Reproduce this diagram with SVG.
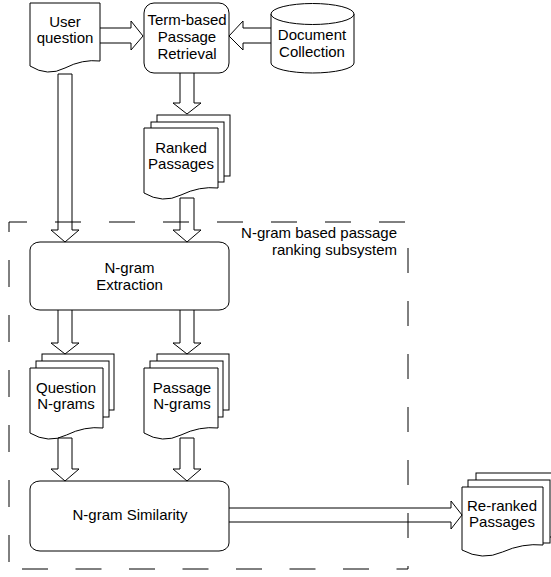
<svg xmlns="http://www.w3.org/2000/svg" width="551" height="577" viewBox="0 0 551 577">
<style>
.s{fill:#fff;stroke:#000;stroke-width:1}
.a{fill:none;stroke:#000;stroke-width:1}
.d{fill:none;stroke:#000;stroke-width:1}
text{font-family:"Liberation Sans",Arial,sans-serif;font-size:15px;fill:#000;text-anchor:middle}
</style>
<rect width="551" height="577" fill="#fff"/>
<g id="user-question">
<path class="s" d="M30,66 Q47.5,77 65,68 T100,61 V3 H30 Z"/>
<text x="65" y="27">User</text>
<text x="65" y="43">question</text>
</g>
<g id="term-based-retrieval">
<rect class="s" x="144" y="3" width="85" height="70" rx="10"/>
<text x="187" y="25">Term-based</text>
<text x="187" y="42">Passage</text>
<text x="187" y="59">Retrieval</text>
</g>
<g id="document-collection">
<path class="s" d="M271,14 V63 A41.5,10 0 0 0 354,63 V14"/>
<ellipse class="s" cx="312.5" cy="14" rx="41.5" ry="10.5"/>
<text x="312" y="40">Document</text>
<text x="312" y="57">Collection</text>
</g>
<g id="ranked-passages">
<rect class="s" x="157" y="115" width="73" height="61"/>
<rect class="s" x="151" y="122" width="73" height="60"/>
<path class="s" d="M144,193 Q162.5,204 181,195 T218,188 V128 H144 Z"/>
<text x="181" y="153">Ranked</text>
<text x="181" y="169">Passages</text>
</g>
<g id="ngram-extraction">
<rect class="s" x="30" y="242" width="199" height="68" rx="10" ry="8"/>
<text x="129.5" y="273">N-gram</text>
<text x="129.5" y="290">Extraction</text>
</g>
<g id="question-ngrams">
<rect class="s" x="42" y="354" width="72" height="56"/>
<rect class="s" x="36" y="361" width="73" height="56"/>
<path class="s" d="M30,433 Q48.25,444 66.5,435 T103,428 V368 H30 Z"/>
<text x="66" y="393">Question</text>
<text x="66" y="409">N-grams</text>
</g>
<g id="passage-ngrams">
<rect class="s" x="157" y="354" width="72" height="56"/>
<rect class="s" x="150" y="361" width="73" height="56"/>
<path class="s" d="M144,433 Q162.5,444 181,435 T218,428 V368 H144 Z"/>
<text x="182" y="393">Passage</text>
<text x="182" y="409">N-grams</text>
</g>
<g id="ngram-similarity">
<rect class="s" x="30" y="481" width="199" height="70" rx="10" ry="8"/>
<text x="130" y="520">N-gram Similarity</text>
</g>
<g id="reranked-passages">
<rect class="s" x="476" y="473" width="81" height="64"/>
<rect class="s" x="468" y="480" width="82" height="63"/>
<path class="s" d="M462,550 Q482.25,561 502.5,552 T543,545 V487 H462 Z"/>
<text x="502" y="511">Re-ranked</text>
<text x="502" y="527">Passages</text>
</g>
<g id="connectors">
<path class="a" d="M100,28 H131 V21 L143,36 L131,50 V43 H100"/>
<path class="a" d="M271,28 H243 V21 L229,36 L243,50 V43 H271"/>
<path class="a" d="M180,73 V103 H173 L187,114 L201,103 H194 V73"/>
<path class="a" d="M180,198 V230 H173 L187,242 L201,230 H194 V198 Z"/>
<path class="a" d="M58,74 V230 H51 L65,242 L79,230 H72 V74 Z"/>
<path class="a" d="M58,310 V343 H51 L65,354 L79,343 H72 V310"/>
<path class="a" d="M180,310 V343 H173 L187,354 L201,343 H194 V310"/>
<path class="a" d="M58,438 V469 H51 L65,481 L79,469 H72 V438 Z"/>
<path class="a" d="M180,438 V469 H173 L187,481 L201,469 H194 V438 Z"/>
<path class="a" d="M229,508 H451 V501 L462,515 L451,529 V522 H229"/>
</g>
<g id="subsystem">
<line class="d" x1="9" y1="222" x2="408" y2="222" stroke-dasharray="26 28" stroke-dashoffset="8"/>
<line class="d" x1="9" y1="222" x2="9" y2="569" stroke-dasharray="27 28" stroke-dashoffset="17"/>
<line class="d" x1="408" y1="222" x2="408" y2="569" stroke-dasharray="25 28" stroke-dashoffset="27"/>
<line class="d" x1="9" y1="569" x2="408" y2="569" stroke-dasharray="26 27.5" stroke-dashoffset="40.5"/>
<text x="397" y="238" style="text-anchor:end">N-gram based passage</text>
<text x="397" y="255" style="text-anchor:end">ranking subsystem</text>
</g>
</svg>
